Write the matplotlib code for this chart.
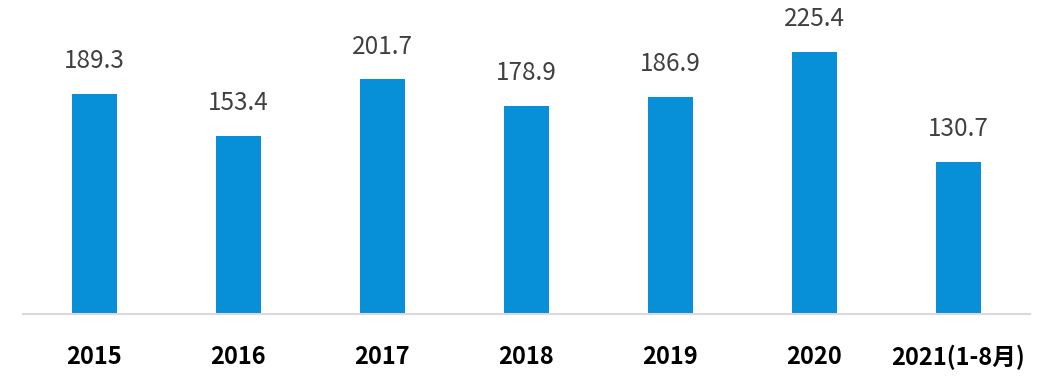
import matplotlib.pyplot as plt

plt.rcParams['font.family'] = ['Noto Sans CJK SC', 'DejaVu Sans']

years = ["2015", "2016", "2017", "2018", "2019", "2020", "2021(1-8月)"]
values = [189.3, 153.4, 201.7, 178.9, 186.9, 225.4, 130.7]

fig = plt.figure(figsize=(10.53, 3.86), dpi=100)
ax = fig.add_axes([0.0214, 0.1865, 0.957, 0.8135])

x = range(len(years))
ax.bar(x, values, width=0.3125, color="#078FD7", zorder=2)
for i, v in enumerate(values):
    ax.text(i, v + 17, f"{v:.1f}", ha="center", va="bottom", fontsize=17.5, color="#404040")

ax.set_xlim(-0.5, len(years) - 0.5)
ax.set_ylim(0, 270)
ax.set_yticks([])
ax.set_xticks(list(x))
ax.set_xticklabels(years, fontsize=17, fontweight="bold", color="black")
last = ax.get_xticklabels()[-1]
last.set_fontsize(17)
last.set_x(6.05)
ax.tick_params(axis="x", length=0, pad=22)
for s in ["top", "right", "left"]:
    ax.spines[s].set_visible(False)
ax.spines["bottom"].set_color("#D9D9D9")
ax.spines["bottom"].set_linewidth(1.5)

fig.savefig("out.png", dpi=100)
